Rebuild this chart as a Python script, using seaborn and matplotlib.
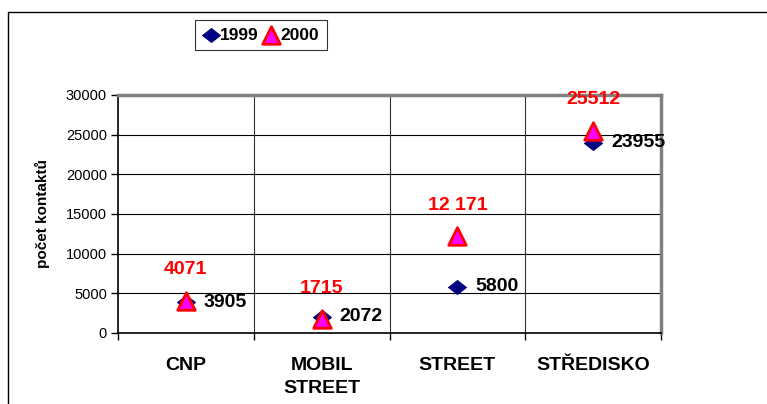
import matplotlib
matplotlib.use('Agg')
import matplotlib.pyplot as plt
import seaborn as sns
import pandas as pd

categories = ['CNP', 'MOBIL\nSTREET', 'STREET', 'STŘEDISKO']
values_1999 = [3905, 2072, 5800, 23955]
values_2000 = [4071, 1715, 12171, 25512]
labels_1999 = ['3905', '2072', '5800', '23955']
labels_2000 = ['4071', '1715', '12 171', '25512']
y_ticks = [0, 5000, 10000, 15000, 20000, 25000, 30000]

df = pd.DataFrame({'kat': range(len(categories)), 'v1999': values_1999, 'v2000': values_2000})

sns.set_style('white')
plt.rcParams['font.family'] = ['Liberation Sans', 'DejaVu Sans']
plt.rcParams['text.color'] = 'black'
plt.rcParams['axes.labelcolor'] = 'black'
plt.rcParams['xtick.color'] = 'black'
plt.rcParams['ytick.color'] = 'black'

fig = plt.figure(figsize=(7.67, 4.04), dpi=100)
ax = fig.add_axes([118 / 767, 1 - 333 / 404, 543 / 767, 238 / 404])

diamond = [(-1, 0), (0, 0.78), (1, 0), (0, -0.78), (-1, 0)]
sns.scatterplot(data=df, x='kat', y='v1999', ax=ax, marker=diamond, s=175,
                color='#000080', edgecolor='#000080', linewidth=0.5, label='1999', zorder=3)
sns.scatterplot(data=df, x='kat', y='v2000', ax=ax, marker='^', s=160,
                color='#FF00FF', edgecolor='#FF0000', linewidth=2, label='2000', zorder=4)

for i, (v, t) in enumerate(zip(values_1999, labels_1999)):
    ax.annotate(t, (i, v), xytext=(13, 0), textcoords='offset points', va='center', ha='left',
                fontsize=14, fontweight='bold', color='black', annotation_clip=False)
for i, (v, t) in enumerate(zip(values_2000, labels_2000)):
    ax.annotate(t, (i, v), xytext=(0, 22.5), textcoords='offset points', va='center', ha='center',
                fontsize=14, fontweight='bold', color='#FF0000', annotation_clip=False)

ax.set_xlim(-0.5, len(categories) - 0.5)
ax.set_ylim(0, 30000)
ax.set_yticks(y_ticks)
ax.set_yticklabels([str(t) for t in y_ticks], fontsize=10.5)
ax.set_xticks(range(len(categories)))
ax.set_xticklabels(categories, fontsize=14, fontweight='bold', linespacing=1.5)
ax.set_xticks([b - 0.5 for b in range(len(categories) + 1)], minor=True)
ax.tick_params(axis='x', which='major', length=0, pad=17)
ax.tick_params(axis='x', which='minor', length=5, width=1, color='black', direction='out', bottom=True)
ax.tick_params(axis='y', length=5, width=1, color='black', direction='out', left=True, pad=3)

for y in y_ticks[1:-1]:
    ax.axhline(y, color='black', lw=0.8, zorder=1)
for b in range(1, len(categories)):
    ax.axvline(b - 0.5, color='#333333', lw=0.8, zorder=1)

ax.set_xlabel('')
ax.set_ylabel('počet kontaktů', fontsize=11, fontweight='bold')
ax.yaxis.set_label_coords(-0.125, 0.5)

for side in ['left', 'bottom']:
    ax.spines[side].set_color('black')
    ax.spines[side].set_linewidth(1.2)
for side in ['top', 'right']:
    ax.spines[side].set_color('#808080')
    ax.spines[side].set_linewidth(2.5)

leg = ax.legend(loc='center', bbox_to_anchor=(261 / 767, 1 - 35 / 404), bbox_transform=fig.transFigure,
                ncol=2, frameon=True, fancybox=False, edgecolor='black',
                prop={'weight': 'bold', 'size': 12.5},
                handletextpad=0.05, columnspacing=0.3, handlelength=0.9, borderpad=0.45, borderaxespad=0)
leg.get_frame().set_linewidth(0.8)

# outer frame of the chart
fig.add_artist(plt.Line2D([8 / 767, 8 / 767], [0, 1 - 12 / 404], transform=fig.transFigure, color='black', lw=1))
fig.add_artist(plt.Line2D([8 / 767, 1], [1 - 12 / 404, 1 - 12 / 404], transform=fig.transFigure, color='black', lw=1))

fig.savefig('out.png', dpi=100)
